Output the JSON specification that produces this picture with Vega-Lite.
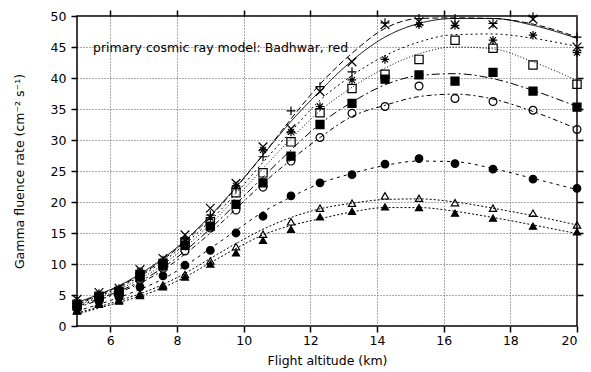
{
"$schema":"https://vega.github.io/schema/vega-lite/v6.json",
"width":500,"height":310,
"autosize":{"type":"none"},
"padding":{"left":77,"top":16,"right":14,"bottom":46},
"background":"white",
"config":{
 "view":{"stroke":"black","strokeWidth":1.5},
 "axis":{"labelFont":"DejaVu Sans","titleFont":"DejaVu Sans","labelFontSize":12.5,"titleFontSize":12.5,"labelColor":"black","titleColor":"black","tickColor":"black","tickSize":6,"tickWidth":1.5,"domain":false,"titleFontWeight":"normal","gridColor":"#555","gridDash":[1,2],"gridOpacity":1,"gridWidth":1}
},
"datasets":{"d":[
{"s":"plus","x":5.0,"m":4.0,"c":3.6},{"s":"plus","x":5.66,"m":5.2,"c":5.0},{"s":"plus","x":6.26,"m":6.0,"c":6.4},{"s":"plus","x":6.89,"m":8.6,"c":8.2},{"s":"plus","x":7.58,"m":10.6,"c":10.7},{"s":"plus","x":8.24,"m":14.2,"c":13.6},{"s":"plus","x":9.0,"m":17.9,"c":17.6},{"s":"plus","x":9.77,"m":22.2,"c":22.3},{"s":"plus","x":10.58,"m":27.3,"c":27.6},{"s":"plus","x":11.42,"m":34.7,"c":33.4},{"s":"plus","x":12.29,"m":38.6,"c":39.0},{"s":"plus","x":13.25,"m":41.0,"c":44.0},{"s":"plus","x":14.24,"m":48.9,"c":48.0},{"s":"plus","x":15.26,"m":49.6,"c":49.6},{"s":"plus","x":16.34,"m":49.6,"c":49.7},{"s":"plus","x":17.48,"m":48.8,"c":49.6},{"s":"plus","x":18.68,"m":49.9,"c":48.7},{"s":"plus","x":20.0,"m":46.6,"c":46.6},
{"s":"cross","x":5.0,"m":4.3,"c":3.8},{"s":"cross","x":5.66,"m":5.4,"c":5.1},{"s":"cross","x":6.26,"m":6.1,"c":6.5},{"s":"cross","x":6.89,"m":9.1,"c":8.4},{"s":"cross","x":7.58,"m":10.9,"c":10.9},{"s":"cross","x":8.24,"m":14.7,"c":13.8},{"s":"cross","x":9.0,"m":19.0,"c":17.8},{"s":"cross","x":9.77,"m":23.0,"c":22.4},{"s":"cross","x":10.58,"m":28.9,"c":27.6},{"s":"cross","x":11.42,"m":31.8,"c":33.0},{"s":"cross","x":12.29,"m":37.8,"c":37.9},{"s":"cross","x":13.25,"m":42.6,"c":42.8},{"s":"cross","x":14.24,"m":48.6,"c":46.6},{"s":"cross","x":15.26,"m":49.1,"c":48.8},{"s":"cross","x":16.34,"m":48.6,"c":49.6},{"s":"cross","x":17.48,"m":48.6,"c":49.6},{"s":"cross","x":18.68,"m":49.5,"c":48.5},{"s":"cross","x":20.0,"m":45.0,"c":46.4},
{"s":"star","x":5.0,"m":3.8,"c":3.5},{"s":"star","x":5.66,"m":5.0,"c":4.8},{"s":"star","x":6.26,"m":5.8,"c":6.2},{"s":"star","x":6.89,"m":8.8,"c":8.0},{"s":"star","x":7.58,"m":10.4,"c":10.4},{"s":"star","x":8.24,"m":13.9,"c":13.2},{"s":"star","x":9.0,"m":17.5,"c":17.0},{"s":"star","x":9.77,"m":22.6,"c":21.4},{"s":"star","x":10.58,"m":28.4,"c":26.4},{"s":"star","x":11.42,"m":31.3,"c":31.4},{"s":"star","x":12.29,"m":35.4,"c":36.4},{"s":"star","x":13.25,"m":39.7,"c":40.4},{"s":"star","x":14.24,"m":43.0,"c":43.6},{"s":"star","x":15.26,"m":48.6,"c":45.8},{"s":"star","x":16.34,"m":48.5,"c":47.0},{"s":"star","x":17.48,"m":46.1,"c":47.1},{"s":"star","x":18.68,"m":46.9,"c":46.4},{"s":"star","x":20.0,"m":44.1,"c":45.1},
{"s":"square","x":5.0,"m":3.5,"c":3.3},{"s":"square","x":5.66,"m":4.8,"c":4.6},{"s":"square","x":6.26,"m":5.6,"c":5.9},{"s":"square","x":6.89,"m":8.3,"c":7.6},{"s":"square","x":7.58,"m":10.1,"c":9.9},{"s":"square","x":8.24,"m":13.5,"c":12.7},{"s":"square","x":9.0,"m":16.8,"c":16.4},{"s":"square","x":9.77,"m":21.5,"c":20.7},{"s":"square","x":10.58,"m":24.7,"c":25.4},{"s":"square","x":11.42,"m":29.7,"c":30.2},{"s":"square","x":12.29,"m":34.4,"c":34.7},{"s":"square","x":13.25,"m":38.3,"c":38.5},{"s":"square","x":14.24,"m":40.6,"c":41.6},{"s":"square","x":15.26,"m":43.0,"c":43.9},{"s":"square","x":16.34,"m":46.1,"c":45.0},{"s":"square","x":17.48,"m":44.8,"c":44.7},{"s":"square","x":18.68,"m":42.1,"c":42.6},{"s":"square","x":20.0,"m":39.0,"c":39.6},
{"s":"squareF","x":5.0,"m":3.2,"c":3.1},{"s":"squareF","x":5.66,"m":4.6,"c":4.4},{"s":"squareF","x":6.26,"m":5.4,"c":5.6},{"s":"squareF","x":6.89,"m":7.9,"c":7.2},{"s":"squareF","x":7.58,"m":9.7,"c":9.4},{"s":"squareF","x":8.24,"m":13.0,"c":12.1},{"s":"squareF","x":9.0,"m":16.1,"c":15.7},{"s":"squareF","x":9.77,"m":19.6,"c":19.7},{"s":"squareF","x":10.58,"m":23.1,"c":24.0},{"s":"squareF","x":11.42,"m":27.4,"c":28.4},{"s":"squareF","x":12.29,"m":32.5,"c":32.6},{"s":"squareF","x":13.25,"m":35.9,"c":36.1},{"s":"squareF","x":14.24,"m":39.8,"c":38.9},{"s":"squareF","x":15.26,"m":40.5,"c":40.4},{"s":"squareF","x":16.34,"m":39.5,"c":40.7},{"s":"squareF","x":17.48,"m":40.9,"c":39.9},{"s":"squareF","x":18.68,"m":37.9,"c":38.0},{"s":"squareF","x":20.0,"m":35.3,"c":35.4},
{"s":"circle","x":5.0,"m":3.0,"c":2.9},{"s":"circle","x":5.66,"m":4.4,"c":4.2},{"s":"circle","x":6.26,"m":5.0,"c":5.4},{"s":"circle","x":6.89,"m":7.4,"c":6.9},{"s":"circle","x":7.58,"m":9.3,"c":9.0},{"s":"circle","x":8.24,"m":12.1,"c":11.6},{"s":"circle","x":9.0,"m":15.8,"c":15.0},{"s":"circle","x":9.77,"m":18.7,"c":18.9},{"s":"circle","x":10.58,"m":22.4,"c":23.0},{"s":"circle","x":11.42,"m":26.6,"c":26.8},{"s":"circle","x":12.29,"m":30.4,"c":30.4},{"s":"circle","x":13.25,"m":34.3,"c":33.8},{"s":"circle","x":14.24,"m":35.4,"c":35.6},{"s":"circle","x":15.26,"m":38.7,"c":37.0},{"s":"circle","x":16.34,"m":36.7,"c":37.4},{"s":"circle","x":17.48,"m":36.2,"c":36.6},{"s":"circle","x":18.68,"m":34.8,"c":34.6},{"s":"circle","x":20.0,"m":31.7,"c":31.8},
{"s":"circleF","x":5.0,"m":2.8,"c":2.4},{"s":"circleF","x":5.66,"m":4.0,"c":3.5},{"s":"circleF","x":6.26,"m":4.6,"c":4.6},{"s":"circleF","x":6.89,"m":6.3,"c":5.9},{"s":"circleF","x":7.58,"m":8.1,"c":7.6},{"s":"circleF","x":8.24,"m":9.8,"c":9.7},{"s":"circleF","x":9.0,"m":12.2,"c":12.5},{"s":"circleF","x":9.77,"m":15.0,"c":15.4},{"s":"circleF","x":10.58,"m":17.7,"c":18.4},{"s":"circleF","x":11.42,"m":21.0,"c":20.8},{"s":"circleF","x":12.29,"m":23.1,"c":23.0},{"s":"circleF","x":13.25,"m":24.4,"c":24.6},{"s":"circleF","x":14.24,"m":26.1,"c":25.9},{"s":"circleF","x":15.26,"m":27.0,"c":26.6},{"s":"circleF","x":16.34,"m":26.2,"c":26.5},{"s":"circleF","x":17.48,"m":25.3,"c":25.4},{"s":"circleF","x":18.68,"m":23.7,"c":23.8},{"s":"circleF","x":20.0,"m":22.2,"c":22.0},
{"s":"tri","x":5.0,"m":2.5,"c":2.1},{"s":"tri","x":5.66,"m":3.7,"c":3.1},{"s":"tri","x":6.26,"m":4.2,"c":4.1},{"s":"tri","x":6.89,"m":5.2,"c":5.2},{"s":"tri","x":7.58,"m":6.6,"c":6.7},{"s":"tri","x":8.24,"m":8.3,"c":8.5},{"s":"tri","x":9.0,"m":10.5,"c":10.9},{"s":"tri","x":9.77,"m":12.8,"c":13.3},{"s":"tri","x":10.58,"m":14.8,"c":15.6},{"s":"tri","x":11.42,"m":16.8,"c":17.5},{"s":"tri","x":12.29,"m":19.0,"c":18.9},{"s":"tri","x":13.25,"m":19.8,"c":19.8},{"s":"tri","x":14.24,"m":21.0,"c":20.4},{"s":"tri","x":15.26,"m":20.6,"c":20.5},{"s":"tri","x":16.34,"m":19.9,"c":20.0},{"s":"tri","x":17.48,"m":19.0,"c":19.0},{"s":"tri","x":18.68,"m":18.2,"c":17.8},{"s":"tri","x":20.0,"m":16.3,"c":16.3},
{"s":"triF","x":5.0,"m":2.4,"c":1.9},{"s":"triF","x":5.66,"m":3.5,"c":2.9},{"s":"triF","x":6.26,"m":4.0,"c":3.8},{"s":"triF","x":6.89,"m":4.9,"c":4.8},{"s":"triF","x":7.58,"m":6.3,"c":6.2},{"s":"triF","x":8.24,"m":7.9,"c":7.9},{"s":"triF","x":9.0,"m":10.0,"c":10.2},{"s":"triF","x":9.77,"m":11.8,"c":12.5},{"s":"triF","x":10.58,"m":13.8,"c":14.7},{"s":"triF","x":11.42,"m":15.6,"c":16.2},{"s":"triF","x":12.29,"m":17.6,"c":17.3},{"s":"triF","x":13.25,"m":18.5,"c":18.4},{"s":"triF","x":14.24,"m":19.2,"c":19.1},{"s":"triF","x":15.26,"m":19.1,"c":19.1},{"s":"triF","x":16.34,"m":18.2,"c":18.5},{"s":"triF","x":17.48,"m":17.4,"c":17.5},{"s":"triF","x":18.68,"m":16.1,"c":16.3},{"s":"triF","x":20.0,"m":15.2,"c":14.9}
]},
"resolve":{"scale":{"x":"independent","y":"independent"},"axis":{"x":"independent","y":"independent"}},
"layer":[
 {"data":{"name":"d"},
  "mark":{"type":"line","color":"black","strokeWidth":1,"interpolate":"monotone"},
  "encoding":{
   "x":{"field":"x","type":"quantitative","scale":{"domain":[5,20],"nice":false,"zero":false},
        "axis":{"orient":"bottom","values":[6,8,10,12,14,16,18,20],"grid":true,"title":"Flight altitude (km)","labelPadding":2,"titlePadding":8}},
   "y":{"field":"c","type":"quantitative","scale":{"domain":[0,50],"nice":false,"zero":false},
        "axis":{"orient":"left","values":[0,5,10,15,20,25,30,35,40,45,50],"grid":true,"title":"Gamma fluence rate (cm⁻² s⁻¹)","labelPadding":5,"titlePadding":24}},
   "detail":{"field":"s"},
   "strokeDash":{"field":"s","type":"nominal","legend":null,
     "scale":{"domain":["plus","cross","star","square","squareF","circle","circleF","tri","triF"],
              "range":[[6,3],[1,0],[2,3],[1,2],[8,3,2,3],[5,3,2,3],[3,4],[2,2],[2,2]]}}
  }},
 {"data":{"name":"d"},
  "mark":{"type":"point","stroke":"black","strokeWidth":1.2,"opacity":1},
  "encoding":{
   "x":{"field":"x","type":"quantitative","scale":{"domain":[5,20],"nice":false,"zero":false},
        "axis":{"orient":"top","values":[6,8,10,12,14,16,18],"labels":false,"grid":false,"title":null}},
   "y":{"field":"m","type":"quantitative","scale":{"domain":[0,50],"nice":false,"zero":false},
        "axis":{"orient":"right","values":[5,10,15,20,25,30,35,40,45],"labels":false,"grid":false,"title":null}},
   "shape":{"field":"s","type":"nominal","legend":null,
     "scale":{"domain":["plus","cross","star","square","squareF","circle","circleF","tri","triF"],
              "range":["M-1,0L1,0M0,-1L0,1","M-1,-1L1,1M-1,1L1,-1","M-1,0L1,0M0,-1L0,1M-0.7,-0.7L0.7,0.7M-0.7,0.7L0.7,-0.7","square","square","circle","circle","triangle-up","triangle-up"]}},
   "fill":{"field":"s","type":"nominal","legend":null,
     "scale":{"domain":["plus","cross","star","square","squareF","circle","circleF","tri","triF"],
              "range":["transparent","transparent","transparent","transparent","black","transparent","black","transparent","black"]}},
   "size":{"field":"s","type":"nominal","legend":null,
     "scale":{"domain":["plus","cross","star","square","squareF","circle","circleF","tri","triF"],
              "range":[80,50,70,55,55,55,50,60,50]}}
  }},
 {"data":{"values":[{"x":5.48,"y":44.8,"t":"primary cosmic ray model: Badhwar, red"}]},
  "mark":{"type":"text","align":"left","baseline":"middle","font":"DejaVu Sans","fontSize":12.5,"color":"black"},
  "encoding":{
   "x":{"field":"x","type":"quantitative","scale":{"domain":[5,20],"nice":false,"zero":false},"axis":null},
   "y":{"field":"y","type":"quantitative","scale":{"domain":[0,50],"nice":false,"zero":false},"axis":null},
   "text":{"field":"t"}
  }}
]
}
